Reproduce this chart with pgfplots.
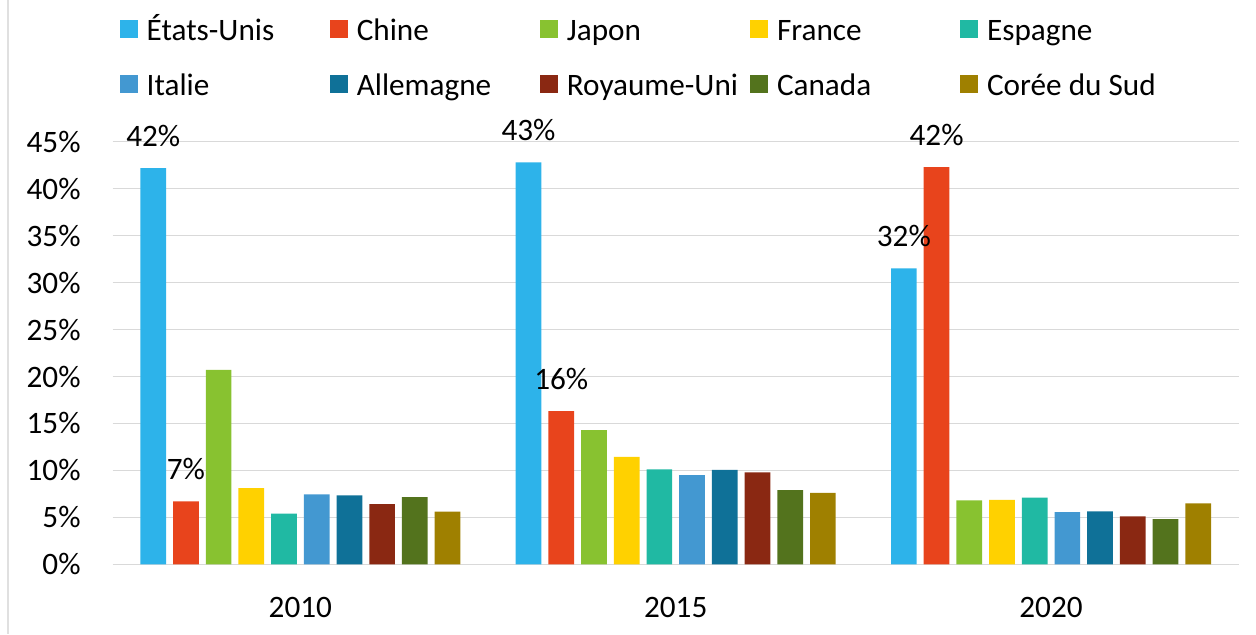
\documentclass[border=0pt]{standalone}
\usepackage{fontspec}
\setmainfont{Carlito}
\usepackage{pgfplots}
\pgfplotsset{compat=1.18}
\definecolor{cUS}{HTML}{2DB3EA}
\definecolor{cCN}{HTML}{E8441C}
\definecolor{cJP}{HTML}{88C230}
\definecolor{cFR}{HTML}{FFD100}
\definecolor{cES}{HTML}{20B9A3}
\definecolor{cIT}{HTML}{4398D1}
\definecolor{cDE}{HTML}{0F7198}
\definecolor{cUK}{HTML}{8A2812}
\definecolor{cCA}{HTML}{53731D}
\definecolor{cKR}{HTML}{9F8000}
\newcommand{\lf}{\fontsize{15.6}{18.7}\selectfont}
\newcommand{\legtxt}[1]{\hspace*{4.5pt}\makebox[91.7pt][l]{\strut #1}}
\begin{document}
\begin{tikzpicture}
\begin{axis}[
  at={(0,0)}, anchor=south west,
  scale only axis, width=563pt, height=211.3pt,
  xmin=-0.5, xmax=2.5, ymin=0, ymax=45,
  ybar=3.5pt, bar width=12.85pt,
  xtick={0,1,2}, xticklabels={2010,2015,2020},
  ytick={0,5,...,45},
  yticklabel={\pgfmathprintnumber{\tick}\%},
  /pgf/number format/assume math mode=true,
  axis line style={draw=none},
  major tick length=0pt,
  ymajorgrids, grid style={color=black!15, line width=0.75pt},
  tick label style={font=\lf},
  yticklabel style={anchor=east, inner sep=0pt, xshift=-15.85pt},
  xticklabel style={anchor=north, inner sep=0pt, yshift=-16.2pt},
  legend columns=5,
  legend style={draw=none, fill=none, inner sep=0pt, outer sep=0pt,
    column sep=0pt, row sep=13pt, font=\lf,
    nodes={inner sep=0pt},
    at={(axis description cs:0,1)}, anchor=north west,
    xshift=3.65pt, yshift=63.65pt},
  legend image code/.code={\fill[#1, draw=none] (0pt,-4.425pt) rectangle (8.85pt,4.425pt);},
  nodes near coords style={font=\lf, anchor=south, inner sep=0pt, yshift=10.5pt, color=black},
]
\addplot[fill=cUS, draw=none, nodes near coords, point meta=explicit symbolic]
  coordinates {(0,42.2) [42\%] (1,42.8) [43\%] (2,31.5) [32\%]};
\addlegendentry{\legtxt{États-Unis}}
\addplot[fill=cCN, draw=none, nodes near coords, point meta=explicit symbolic]
  coordinates {(0,6.7) [7\%] (1,16.3) [16\%] (2,42.3) [42\%]};
\addlegendentry{\legtxt{Chine}}
\addplot[fill=cJP, draw=none] coordinates {(0,20.7) (1,14.3) (2,6.8)};
\addlegendentry{\legtxt{Japon}}
\addplot[fill=cFR, draw=none] coordinates {(0,8.1) (1,11.45) (2,6.85)};
\addlegendentry{\legtxt{France}}
\addplot[fill=cES, draw=none] coordinates {(0,5.4) (1,10.1) (2,7.1)};
\addlegendentry{\legtxt{Espagne}}
\addplot[fill=cIT, draw=none] coordinates {(0,7.45) (1,9.5) (2,5.55)};
\addlegendentry{\legtxt{Italie}}
\addplot[fill=cDE, draw=none] coordinates {(0,7.35) (1,10.05) (2,5.65)};
\addlegendentry{\legtxt{Allemagne}}
\addplot[fill=cUK, draw=none] coordinates {(0,6.4) (1,9.8) (2,5.1)};
\addlegendentry{\legtxt{Royaume-Uni}}
\addplot[fill=cCA, draw=none] coordinates {(0,7.15) (1,7.9) (2,4.8)};
\addlegendentry{\legtxt{Canada}}
\addplot[fill=cKR, draw=none] coordinates {(0,5.6) (1,7.6) (2,6.5)};
\addlegendentry{\legtxt{Corée du Sud}}
\end{axis}
\pgfresetboundingbox
\path[use as bounding box] (-56.35pt,-34.85pt) rectangle (571.65pt,282.15pt);
\draw[black!12, line width=1pt] (-52.35pt,-34.85pt) -- (-52.35pt,282.15pt);
\end{tikzpicture}
\end{document}
